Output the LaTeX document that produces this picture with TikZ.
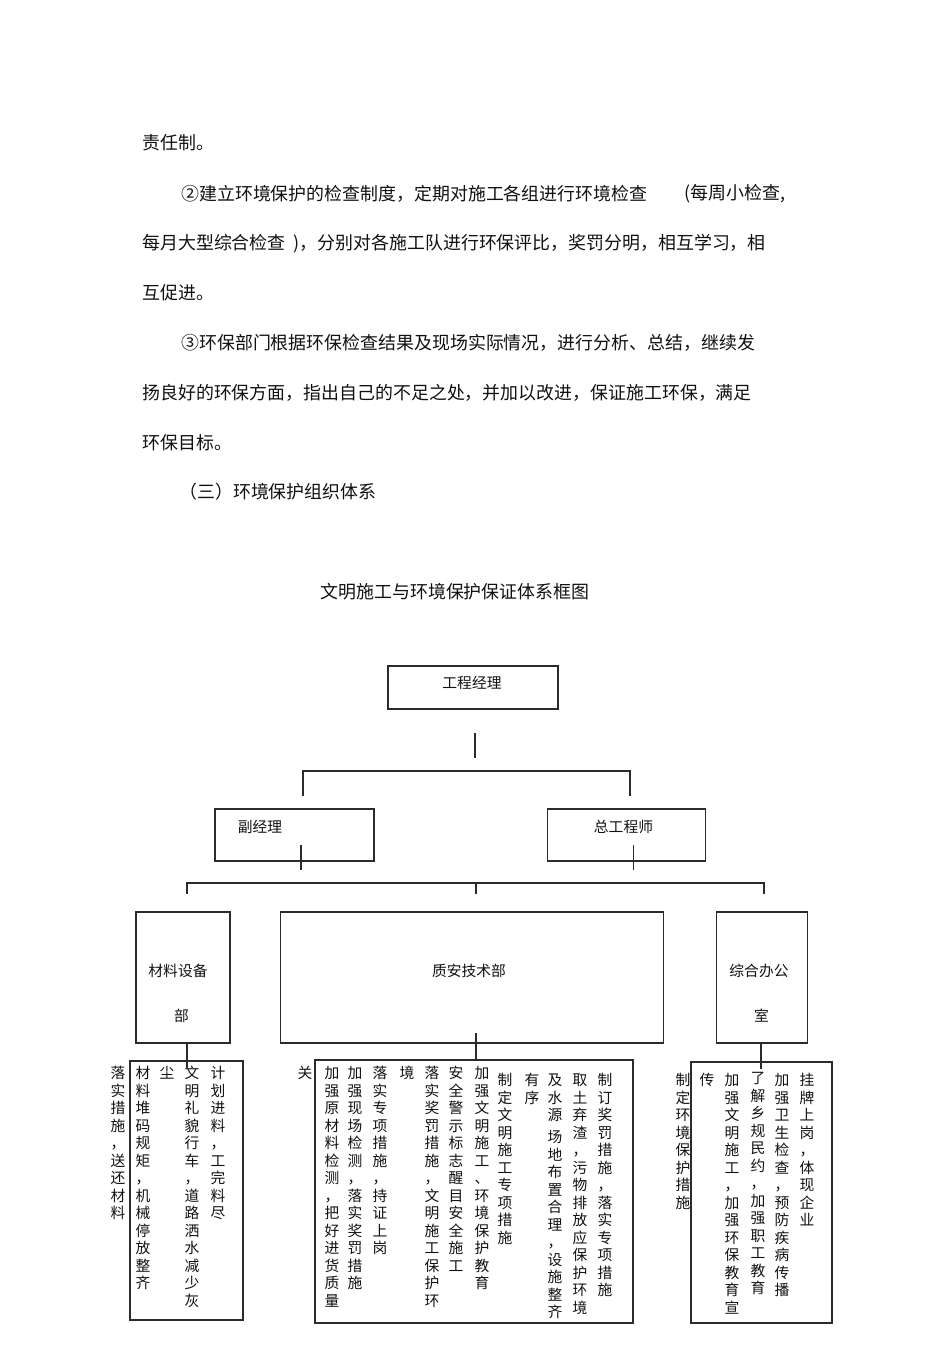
\documentclass[tikz,border=0pt]{standalone}
\usepackage{fontspec}
\setmainfont{Noto Sans CJK SC}
\definecolor{lineDark}{HTML}{2B2B2B}
\definecolor{textDark}{HTML}{111111}
\newcommand\txtbody{\fontsize{10.2pt}{12pt}\selectfont}
\newcommand\txtdiag{\fontsize{8.4pt}{10pt}\selectfont}
% vertical column of characters, one per line
\def\vcolEnd{\vcolEnd}
\def\vcolA#1{\ifx#1\vcolEnd\else\hbox to 1em{\vrule height .88em depth .12em width 0pt\hss#1\hss}\expandafter\vcolA\fi}
\newcommand\vcol[1]{\vbox{\baselineskip=3.5mm\lineskiplimit=-\maxdimen\vcolA#1\vcolEnd}}
\tikzset{
  box/.style={rectangle, draw=lineDark, line width=0.6pt, inner sep=0pt},
  conn/.style={draw=lineDark, line width=0.6pt},
  lbl/.style={inner sep=0pt, font=\txtdiag},
  para/.style={anchor=west, inner sep=0pt, font=\txtbody},
  vtext/.style={anchor=north, inner sep=0pt, font=\txtdiag},
}
\begin{document}
\begin{tikzpicture}[x=0.2mm, y=-0.2mm, text=textDark]
    \path[fill=white, use as bounding box] (0,0) rectangle (950,1345);
    % text above the chart
    \node[para] (p1) at (142,143) {责任制。};
    \node[para] (p2) at (181,194) {②建立环境保护的检查制度，定期对施工各组进行环境检查};
    \node[para] (p2b) at (684,194) {(每周小检查,};
    \node[para] (p3) at (142,244) {每月大型综合检查\hspace{1.6mm})，分别对各施工队进行环保评比，奖罚分明，相互学习，相};
    \node[para] (p4) at (142,293) {互促进。};
    \node[para] (p5) at (181,343) {③环保部门根据环保检查结果及现场实际情况，进行分析、总结，继续发};
    \node[para] (p6) at (142,393) {扬良好的环保方面，指出自己的不足之处，并加以改进，保证施工环保，满足};
    \node[para] (p7) at (142,443) {环保目标。};
    \node[para] (p8) at (179,492) {（三）环境保护组织体系};
    \node[para, anchor=center] (title) at (455,592) {文明施工与环境保护保证体系框图};
    % boxes
    \node[box, minimum width=34mm, minimum height=8.6mm] (gm) at (473,687.5) {};
    \node[lbl] (gmT) at (472,683) {工程经理};
    \node[box, minimum width=31.8mm, minimum height=10.4mm] (fu) at (294.5,835) {};
    \node[lbl] (fuT) at (260,827) {副经理};
    \node[box, minimum width=31.6mm, minimum height=10.4mm] (zg) at (626.5,835) {};
    \node[lbl] (zgT) at (623.5,827) {总工程师};
    \node[box, minimum width=18.8mm, minimum height=26.2mm] (cl) at (183,977.5) {};
    \node[lbl] (clT) at (178,971) {材料设备};
    \node[lbl] (clT2) at (181.5,1016) {部};
    \node[box, minimum width=76.6mm, minimum height=26.2mm] (zaj) at (472,977.5) {};
    \node[lbl] (zajT) at (469,971) {质安技术部};
    \node[box, minimum width=18.2mm, minimum height=26.2mm] (zh) at (762,977.5) {};
    \node[lbl] (zhT) at (759,971) {综合办公};
    \node[lbl] (zhT2) at (761.5,1016) {室};
    \node[box, line width=0.8pt, minimum width=22.6mm, minimum height=51.8mm] (Lbox) at (186.5,1190.5) {};
    \node[box, line width=0.8pt, minimum width=63.6mm, minimum height=52.6mm] (Mbox) at (474,1191.5) {};
    \node[box, line width=0.8pt, minimum width=28.2mm, minimum height=52.2mm] (Rbox) at (761.5,1192.5) {};
    % connectors
    \coordinate (c0) at (475,733);
    \draw[conn] (c0) -- ++(0,25);
    \coordinate (b1l) at (303,771);
    \coordinate (b1r) at (630,771);
    \draw[conn] ([yshift=-5mm]b1l) -- (b1l) -- (b1r) -- ([yshift=-5mm]b1r);
    \draw[conn] ([xshift=1.3mm,yshift=-2mm]fu.center) -- ++(0,25);
    \draw[conn] ([xshift=1.44mm,yshift=-2mm]zg.center) -- ++(0,25);
    \coordinate (b2l) at (187,883);
    \coordinate (b2m) at (476,883);
    \coordinate (b2r) at (764,883);
    \draw[conn] ([yshift=-2.2mm]b2l) -- (b2l) -- (b2r) -- ([yshift=-2.2mm]b2r);
    \draw[conn] (b2m) -- ++(0,11);
    \draw[conn] ([xshift=0.8mm]cl.south) -- ++(0,24);
    \draw[conn] ([xshift=0.8mm,yshift=2.2mm]zaj.south) -- ++(0,28);
    \draw[conn] ([xshift=-0.2mm]zh.south) -- ++(0,25);
    % left group
    \node[vtext] (L5) at (118,1065.6) {\vcol{落实措施，送还材料}};
    \node[vtext] (L4) at (143,1065.6) {\vcol{材料堆码规矩，机械停放整齐}};
    \node[vtext] (L3) at (167,1065.6) {\vcol{尘}};
    \node[vtext] (L2) at (192,1065.6) {\vcol{文明礼貌行车，道路洒水减少灰}};
    \node[vtext] (L1) at (218,1065.6) {\vcol{计划进料，工完料尽}};
    % middle group
    \node[vtext] (M13) at (305,1065.6) {\vcol{关}};
    \node[vtext] (M12) at (332,1065.6) {\vcol{加强原材料检测，把好进货质量}};
    \node[vtext] (M11) at (355,1065.6) {\vcol{加强现场检测，落实奖罚措施}};
    \node[vtext] (M10) at (380,1065.6) {\vcol{落实专项措施，持证上岗}};
    \node[vtext] (M9) at (407,1065.6) {\vcol{境}};
    \node[vtext] (M8) at (432,1065.6) {\vcol{落实奖罚措施，文明施工保护环}};
    \node[vtext] (M7) at (456,1065.6) {\vcol{安全警示标志醒目安全施工}};
    \node[vtext] (M6) at (482,1065.6) {\vcol{加强文明施工、环境保护教育}};
    \node[vtext] (M5) at (505,1072.6) {\vcol{制定文明施工专项措施}};
    \node[vtext] (M4) at (532,1072.6) {\vcol{有序}};
    \node[vtext] (M3a) at (555,1072.6) {\vcol{及水源}};
    \node[vtext] (M3b) at (555,1129.6) {\vcol{场地布置合理，设施整齐}};
    \node[vtext] (M2) at (580,1072.6) {\vcol{取土弃渣，污物排放应保护环境}};
    \node[vtext] (M1) at (605,1072.6) {\vcol{制订奖罚措施，落实专项措施}};
    % right group
    \node[vtext] (R6) at (683,1072.6) {\vcol{制定环境保护措施}};
    \node[vtext] (R5) at (707,1072.6) {\vcol{传}};
    \node[vtext] (R4) at (732,1072.6) {\vcol{加强文明施工，加强环保教育宣}};
    \node[vtext] (R3) at (758,1070.6) {\vcol{了解乡规民约，加强职工教育}};
    \node[vtext] (R2) at (782,1072.6) {\vcol{加强卫生检查，预防疾病传播}};
    \node[vtext] (R1) at (807,1072.6) {\vcol{挂牌上岗，体现企业}};
  \end{tikzpicture}
\end{document}
